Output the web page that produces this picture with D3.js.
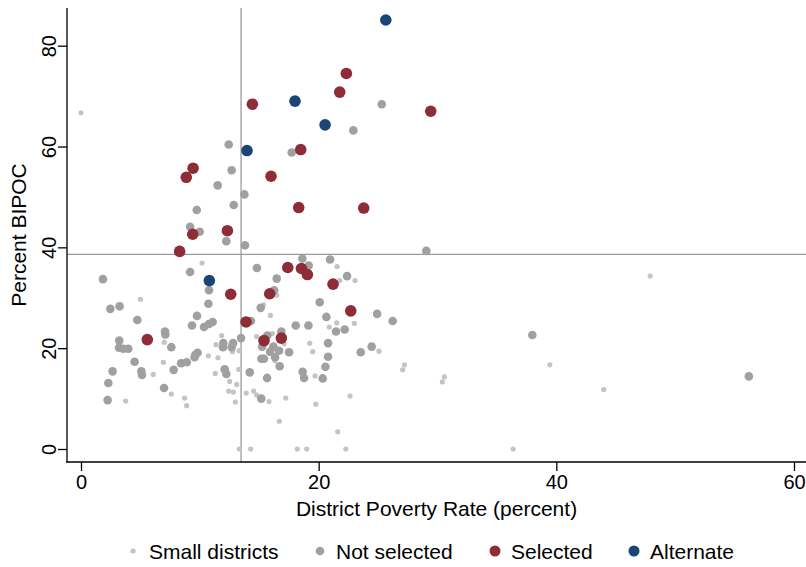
<!DOCTYPE html>
<html>
<head>
<meta charset="utf-8">
<script src="https://cdn.jsdelivr.net/npm/d3@7"></script>
<style>
  html, body { margin: 0; padding: 0; background: #fff; }
  svg { display: block; }
  text { font-family: "Liberation Sans Narrow", "Arial Narrow", "Liberation Sans", Arial, sans-serif; fill: #000; }
</style>
</head>
<body>
<svg id="chart" width="806" height="567"></svg>
<script>
// ---- data (poverty rate %, percent BIPOC) ----
const smallDistricts = [
  [0,66.7],[10.19,36.9],[5.0,29.7],[21.55,36.2],[23.06,33.4],[21.77,33.4],[16.47,30.5],[15.35,28.6],
  [15.94,26.5],[23.0,24.9],[21.52,25.0],[20.9,24.2],[14.78,22.3],[16.1,22.9],[17.09,20.9],[19.25,21.0],
  [19.5,19.3],[25.08,19.4],[16.33,17.5],[19.7,14.5],[27.07,15.7],[27.22,16.7],[30.58,14.3],[30.41,13.3],
  [13.91,11.1],[14.53,11.5],[14.78,10.7],[15.82,9.4],[17.23,10.1],[19.76,8.9],[22.64,10.5],[16.69,5.5],
  [21.6,3.4],[14.28,0],[18.2,0],[19.0,0],[22.28,0],
  [7.0,21.2],[11.84,22.5],[11.36,20.7],[12.74,19.3],[13.3,19.5],[10.72,18.5],[11.53,18.1],[6.93,17.2],
  [6.08,14.8],[11.3,15.0],[13.27,15.8],[12.51,13.4],[13.1,12.8],[12.43,11.5],[12.82,11.3],[12.99,9.3],
  [3.76,9.5],[7.6,10.9],[8.72,10.1],[8.89,8.6],[13.32,0],
  [47.9,34.3],[39.45,16.7],[43.99,11.8],[36.36,0]
];
const notSelected = [
  [12.43,60.4],[25.31,68.4],[22.92,63.2],[17.73,58.8],[12.68,55.3],[11.5,52.3],[13.75,50.5],[12.85,48.4],
  [9.74,47.4],[9.18,44.1],[9.99,43.1],[12.23,41.2],[13.8,40.4],[9.18,35.1],[14.8,35.9],[1.85,33.7],
  [10.77,31.5],[29.06,39.3],[18.63,37.8],[20.96,37.6],[19.16,36.4],[16.47,33.8],[22.39,34.3],[16.25,31.5],
  [20.09,29.1],[15.12,28.0],[20.65,26.2],[24.92,26.8],[26.23,25.4],[14.3,25.4],[18.07,24.5],[19.14,24.5],
  [21.46,23.3],[22.19,23.7],[13.47,22.0],[15.68,22.5],[16.86,23.3],[15.24,20.3],[16.19,20.3],[16.67,19.5],
  [15.91,19.3],[17.51,19.2],[20.79,21.0],[23.54,19.2],[24.46,20.3],[15.18,17.9],[15.4,17.9],[16.33,18.2],
  [20.79,18.3],[16.72,16.4],[20.57,16.3],[18.65,15.3],[14.2,15.2],[18.77,14.1],[15.66,14.1],[20.34,14.0],
  [15.17,10.0],
  [2.47,27.8],[3.25,28.3],[10.72,28.8],[9.76,26.4],[4.74,25.6],[9.34,24.5],[10.35,24.2],[11.08,25.2],
  [10.77,24.8],[7.07,23.3],[7.1,22.7],[3.22,21.5],[3.2,20.1],[3.56,19.9],[3.98,19.9],[7.6,20.2],
  [11.98,21.0],[11.95,20.2],[12.8,21.0],[12.68,20.2],[9.62,18.7],[9.81,19.1],[9.56,18.2],[8.42,17.0],
  [8.9,17.2],[4.51,17.3],[7.8,15.7],[5.08,15.4],[5.13,14.7],[2.66,15.4],[12.09,15.8],[12.23,14.9],
  [2.3,13.1],[2.24,9.7],[6.99,12.1],
  [37.98,22.6],[56.2,14.4]
];
const selected = [
  [22.33,74.5],[21.77,70.8],[14.42,68.4],[29.43,67.0],[18.49,59.4],[9.43,55.7],[8.86,53.9],[15.99,54.1],
  [18.32,47.9],[23.79,47.8],[12.32,43.3],[9.4,42.6],[8.3,39.2],[17.4,36.0],[18.55,35.8],[19.05,34.6],
  [21.21,32.7],[12.6,30.7],[15.88,30.8],[22.7,27.4],[13.89,25.2],[5.58,21.7],[15.4,21.5],[16.86,22.0]
];
const alternate = [
  [25.65,85.1],[18.01,69.0],[20.54,64.3],[13.97,59.2],[10.8,33.4]
];
const xTicks = [0, 20, 40, 60];
const yTicks = [0, 20, 40, 60, 80];
const refX = 13.47;   // vertical reference line (poverty rate)
const refY = 38.6;    // horizontal reference line (percent BIPOC)
const legendLabels = ["Small districts", "Not selected", "Selected", "Alternate"];

// ---- layout ----
const svg = d3.select("#chart");
const plotLeft = 67, plotRight = 806, plotTop = 8, plotBottom = 462;
const x = d3.scaleLinear().domain([0, 60]).range([81, 794]);
const y = d3.scaleLinear().domain([0, 80]).range([449, 45.7]);

const styles = {
  small:  { fill: "#c4c4c4", r: 2.6 },
  notsel: { fill: "#a0a0a0", r: 4.3 },
  sel:    { fill: "#8e2d37", r: 5.8 },
  alt:    { fill: "#1a4677", r: 5.8 }
};

// reference lines
svg.append("line")
  .attr("x1", x(refX)).attr("x2", x(refX))
  .attr("y1", plotTop).attr("y2", plotBottom)
  .attr("stroke", "#9a9a9a").attr("stroke-width", 1.3);
svg.append("line")
  .attr("x1", plotLeft).attr("x2", plotRight)
  .attr("y1", y(refY)).attr("y2", y(refY))
  .attr("stroke", "#9a9a9a").attr("stroke-width", 1.3);

// points
function drawPts(data, st) {
  svg.append("g").selectAll("circle").data(data).join("circle")
    .attr("cx", d => x(d[0])).attr("cy", d => y(d[1]))
    .attr("r", st.r).attr("fill", st.fill);
}
drawPts(smallDistricts, styles.small);
drawPts(notSelected, styles.notsel);
drawPts(selected, styles.sel);
drawPts(alternate, styles.alt);

// axes
const xAxis = svg.append("g").attr("transform", `translate(0,${plotBottom})`)
  .call(d3.axisBottom(x).tickValues(xTicks).tickSize(9).tickPadding(4).tickFormat(d3.format("d")));
xAxis.select(".domain").remove();
xAxis.selectAll(".tick line").attr("stroke", "#000").attr("stroke-width", 1.3);
xAxis.selectAll(".tick text").attr("font-size", 20).attr("dy", "0.71em");

const yAxis = svg.append("g").attr("transform", `translate(${plotLeft},0)`)
  .call(d3.axisLeft(y).tickValues(yTicks).tickSize(9).tickPadding(0).tickFormat(d3.format("d")));
yAxis.select(".domain").remove();
yAxis.selectAll(".tick line").attr("stroke", "#000").attr("stroke-width", 1.3);
yAxis.selectAll(".tick text")
  .attr("font-size", 20)
  .attr("x", 0).attr("dy", 0)
  .attr("text-anchor", "middle")
  .attr("transform", "translate(-18,0) rotate(-90)")
  .attr("y", 0)
  .attr("dominant-baseline", "central");

// axis lines
svg.append("line").attr("x1", plotLeft).attr("x2", plotLeft).attr("y1", plotTop).attr("y2", plotBottom + 0.65)
  .attr("stroke", "#000").attr("stroke-width", 1.3);
svg.append("line").attr("x1", plotLeft - 0.65).attr("x2", plotRight).attr("y1", plotBottom).attr("y2", plotBottom)
  .attr("stroke", "#000").attr("stroke-width", 1.3);

// axis titles
svg.append("text").attr("x", (plotLeft + plotRight) / 2 + 0).attr("y", 516)
  .attr("text-anchor", "middle").attr("font-size", 21).text("District Poverty Rate (percent)");
svg.append("text")
  .attr("transform", `translate(26,${(plotTop + plotBottom) / 2}) rotate(-90)`)
  .attr("text-anchor", "middle").attr("font-size", 21).text("Percent BIPOC");

// legend
const legendItems = [
  { label: legendLabels[0], st: styles.small, cx: 133, r: 2.6 },
  { label: legendLabels[1], st: styles.notsel, cx: 320, r: 4.3 },
  { label: legendLabels[2], st: styles.sel, cx: 495, r: 5.5 },
  { label: legendLabels[3], st: styles.alt, cx: 634, r: 5.5 }
];
const lg = svg.append("g");
legendItems.forEach(it => {
  lg.append("circle").attr("cx", it.cx).attr("cy", 551).attr("r", it.r).attr("fill", it.st.fill);
  lg.append("text").attr("x", it.cx + 16).attr("y", 551).attr("dominant-baseline", "central")
    .attr("font-size", 21).text(it.label);
});
</script>
</body>
</html>
